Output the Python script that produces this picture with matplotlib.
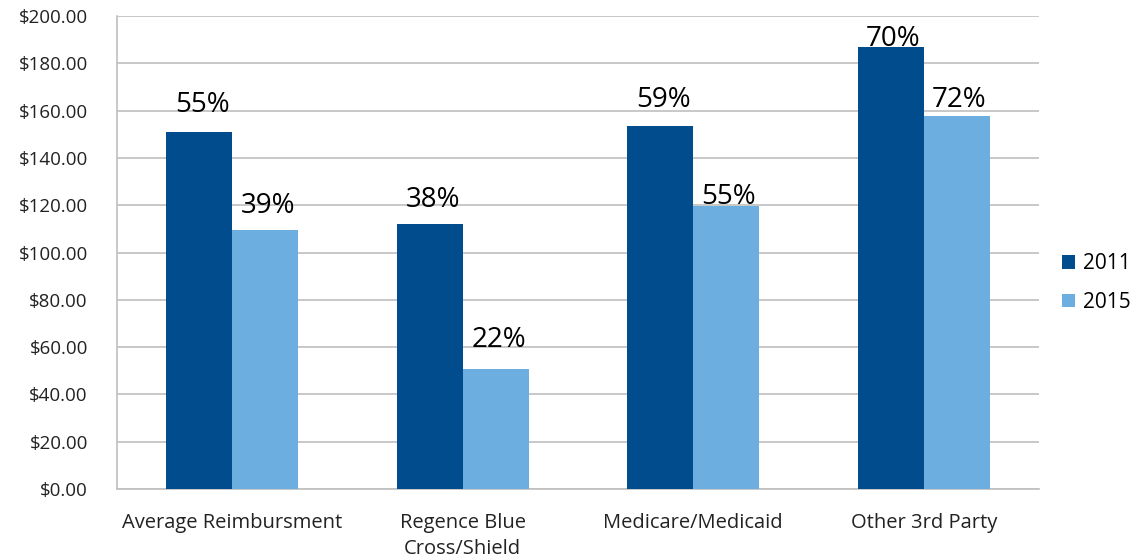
import numpy as np
import matplotlib.pyplot as plt

categories = ["Average Reimbursment", "Regence Blue\nCross/Shield",
              "Medicare/Medicaid", "Other 3rd Party"]
years = ["2011", "2015"]
values_2011 = [151.0, 112.0, 153.5, 187.0]
values_2015 = [109.5, 50.8, 119.8, 157.8]
pct_2011 = ["55%", "38%", "59%", "70%"]
pct_2015 = ["39%", "22%", "55%", "72%"]

plt.rcParams['font.family'] = ['Open Sans', 'DejaVu Sans']

fig = plt.figure(figsize=(11.36, 5.6), dpi=100)
ax = fig.add_axes([0.103, 0.1268, 0.8116, 0.8446])

x = np.arange(len(categories))
w = 0.286
dark = "#004C8C"
light = "#6CAEE0"

b1 = ax.bar(x - w / 2, values_2011, w, color=dark, label=years[0], zorder=3)
b2 = ax.bar(x + w / 2, values_2015, w, color=light, label=years[1], zorder=3)

# labels sit a little above each bar (baseline offsets in points)
off1 = [14.4, 12.2, 13.7, 0.7]
off2 = [12.2, 15.8, 1.4, 6.5]
for rects, labels, offs in ((b1, pct_2011, off1), (b2, pct_2015, off2)):
    for r, lab, o in zip(rects, labels, offs):
        ax.annotate(lab, (r.get_x() + r.get_width() / 2, r.get_height()),
                    xytext=(2, o), textcoords="offset points",
                    ha="center", va="baseline", fontsize=20, color="black")

ax.set_ylim(0, 200)
ax.set_xlim(-0.5, len(categories) - 0.5)
ax.set_yticks(np.arange(0, 201, 20))
ax.set_yticklabels([f"${v:.2f}" for v in np.arange(0, 201, 20)])
ax.set_xticks(x)
ax.set_xticklabels(categories, linespacing=1.45)
ax.tick_params(axis="both", length=0, colors="#222222")
ax.tick_params(axis="y", pad=21, labelsize=13.5)
ax.tick_params(axis="x", pad=17, labelsize=14.5)

ax.yaxis.grid(True, color="#BFBFBF", linewidth=1.2, zorder=0)
for s in ["top", "right"]:
    ax.spines[s].set_visible(False)
for s in ["left", "bottom"]:
    ax.spines[s].set_color("#BFBFBF")
    ax.spines[s].set_linewidth(1.2)

ax.legend(loc="center left", bbox_to_anchor=(1.005, 0.435), frameon=False,
          fontsize=15, handlelength=0.6, handleheight=0.6,
          handletextpad=0.4, labelspacing=0.85)

fig.savefig("out.png", dpi=100)
